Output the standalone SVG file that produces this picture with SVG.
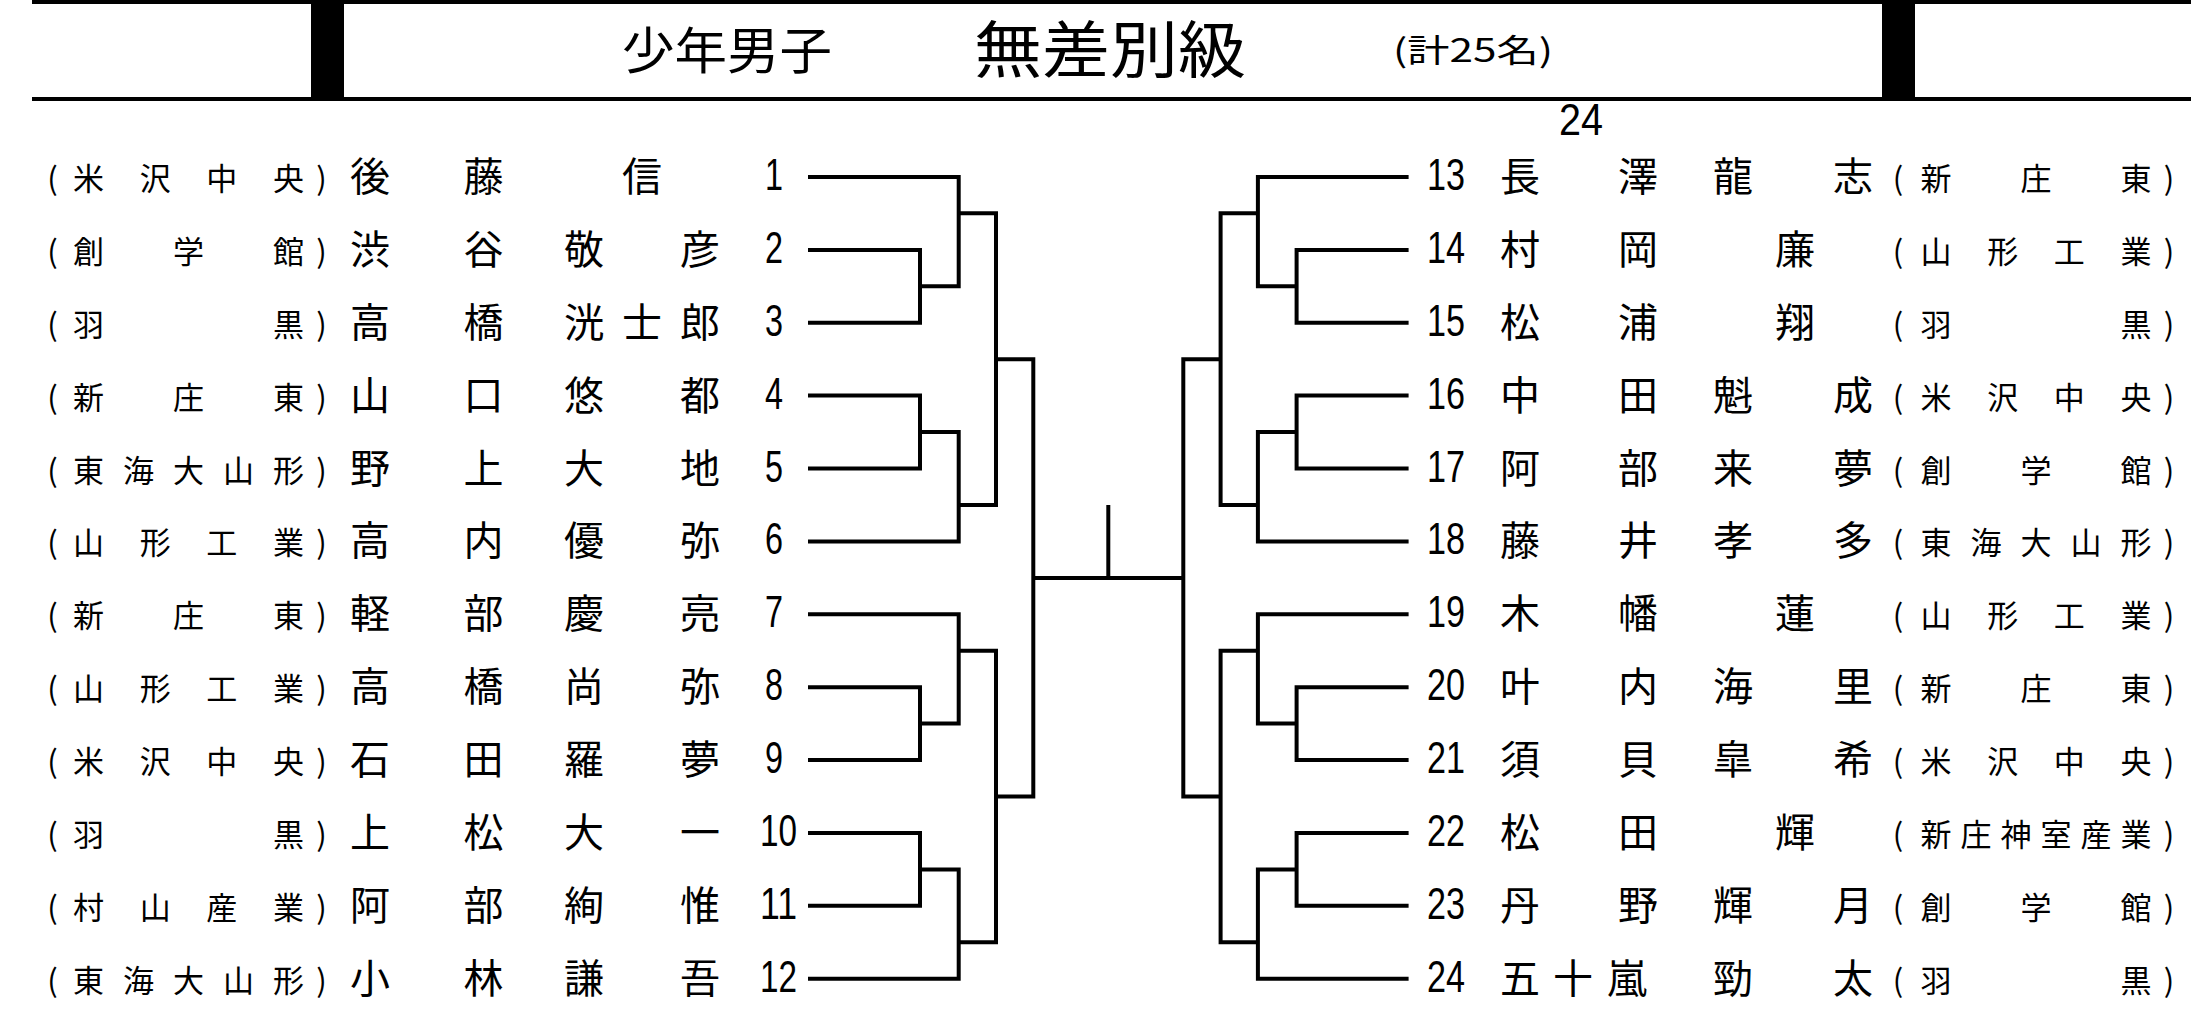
<svg xmlns="http://www.w3.org/2000/svg" width="2209" height="1009" viewBox="0 0 2209 1009">
<style>
text { fill: #000; }
.ttl { font-family: "Noto Sans CJK JP", sans-serif; }
.sch { font-family: "Noto Sans CJK JP", sans-serif; font-size: 31px; text-anchor: middle; }
.nm { font-family: "Noto Sans CJK JP", sans-serif; font-size: 40px; text-anchor: middle; }
.num { font-family: "Liberation Sans", sans-serif; font-size: 44px; }
.ln { fill: none; stroke: #000; stroke-width: 4; stroke-linejoin: miter; }
</style>
<rect width="2209" height="1009" fill="#fff"/>
<g id="header">
  <rect x="32" y="0" width="2159" height="4" fill="#000"/>
  <rect x="32" y="97" width="2159" height="4" fill="#000"/>
  <rect x="311" y="0" width="33" height="101" fill="#000"/>
  <rect x="1882" y="0" width="33" height="101" fill="#000"/>
  <text class="ttl" x="622" y="69" font-size="50" textLength="210" lengthAdjust="spacingAndGlyphs">少年男子</text>
  <text class="ttl" x="974" y="73" font-size="62" textLength="272" lengthAdjust="spacingAndGlyphs">無差別級</text>
  <text class="ttl" x="1393" y="62" font-size="32" textLength="160" lengthAdjust="spacingAndGlyphs">(計25名)</text>
  <text class="num" x="1559" y="135" font-size="48" textLength="44" lengthAdjust="spacingAndGlyphs">24</text>
</g>
<g id="connectors">
  <path class="ln" d="M808,177 H958.7 V286.3 H920"/>
  <path class="ln" d="M808,249.9 H920 V322.8 H808"/>
  <path class="ln" d="M958.7,213.3 H996 V505 H958.7"/>
  <path class="ln" d="M808,395.6 H920 V468.5 H808"/>
  <path class="ln" d="M920,432.1 H958.7 V541.4 H808"/>
  <path class="ln" d="M996,359.2 H1033.3 V796.5 H996"/>
  <path class="ln" d="M808,614.3 H958.7 V723.6 H920"/>
  <path class="ln" d="M808,687.2 H920 V760 H808"/>
  <path class="ln" d="M958.7,650.8 H996 V942.3 H958.7"/>
  <path class="ln" d="M808,832.9 H920 V905.8 H808"/>
  <path class="ln" d="M920,869.4 H958.7 V978.7 H808"/>
  <path class="ln" d="M1033.3,577.9 H1183.3"/>
  <path class="ln" d="M1108.3,505 V577.9"/>
  <path class="ln" d="M1408.6,177 H1257.9 V286.3 H1296.6"/>
  <path class="ln" d="M1408.6,249.9 H1296.6 V322.8 H1408.6"/>
  <path class="ln" d="M1257.9,213.3 H1220.6 V505 H1257.9"/>
  <path class="ln" d="M1408.6,395.6 H1296.6 V468.5 H1408.6"/>
  <path class="ln" d="M1296.6,432.1 H1257.9 V541.4 H1408.6"/>
  <path class="ln" d="M1220.6,359.2 H1183.3 V796.5 H1220.6"/>
  <path class="ln" d="M1408.6,614.3 H1257.9 V723.6 H1296.6"/>
  <path class="ln" d="M1408.6,687.2 H1296.6 V760 H1408.6"/>
  <path class="ln" d="M1257.9,650.8 H1220.6 V942.3 H1257.9"/>
  <path class="ln" d="M1408.6,832.9 H1296.6 V905.8 H1408.6"/>
  <path class="ln" d="M1296.6,869.4 H1257.9 V978.7 H1408.6"/>
</g>
<g id="p1" transform="translate(0,177)">
  <text class="sch" x="52.5 88.5 155.2 221.8 288.5 321.5" y="13">(米沢中央)</text>
  <text class="nm" x="370 483.5 642" y="14">後藤信</text>
  <text class="num" x="765" y="13" textLength="18" lengthAdjust="spacingAndGlyphs">1</text>
</g>
<g id="p2" transform="translate(0,249.9)">
  <text class="sch" x="52.5 88.5 188.5 288.5 321.5" y="13">(創学館)</text>
  <text class="nm" x="370 483.5 584 700" y="14">渋谷敬彦</text>
  <text class="num" x="765" y="13" textLength="18" lengthAdjust="spacingAndGlyphs">2</text>
</g>
<g id="p3" transform="translate(0,322.8)">
  <text class="sch" x="52.5 88.5 288.5 321.5" y="13">(羽黒)</text>
  <text class="nm" x="370 483.5 584 642 700" y="14">高橋洸士郎</text>
  <text class="num" x="765" y="13" textLength="18" lengthAdjust="spacingAndGlyphs">3</text>
</g>
<g id="p4" transform="translate(0,395.6)">
  <text class="sch" x="52.5 88.5 188.5 288.5 321.5" y="13">(新庄東)</text>
  <text class="nm" x="370 483.5 584 700" y="14">山口悠都</text>
  <text class="num" x="765" y="13" textLength="18" lengthAdjust="spacingAndGlyphs">4</text>
</g>
<g id="p5" transform="translate(0,468.5)">
  <text class="sch" x="52.5 88.5 138.5 188.5 238.5 288.5 321.5" y="13">(東海大山形)</text>
  <text class="nm" x="370 483.5 584 700" y="14">野上大地</text>
  <text class="num" x="765" y="13" textLength="18" lengthAdjust="spacingAndGlyphs">5</text>
</g>
<g id="p6" transform="translate(0,541.4)">
  <text class="sch" x="52.5 88.5 155.2 221.8 288.5 321.5" y="13">(山形工業)</text>
  <text class="nm" x="370 483.5 584 700" y="14">高内優弥</text>
  <text class="num" x="765" y="13" textLength="18" lengthAdjust="spacingAndGlyphs">6</text>
</g>
<g id="p7" transform="translate(0,614.3)">
  <text class="sch" x="52.5 88.5 188.5 288.5 321.5" y="13">(新庄東)</text>
  <text class="nm" x="370 483.5 584 700" y="14">軽部慶亮</text>
  <text class="num" x="765" y="13" textLength="18" lengthAdjust="spacingAndGlyphs">7</text>
</g>
<g id="p8" transform="translate(0,687.2)">
  <text class="sch" x="52.5 88.5 155.2 221.8 288.5 321.5" y="13">(山形工業)</text>
  <text class="nm" x="370 483.5 584 700" y="14">高橋尚弥</text>
  <text class="num" x="765" y="13" textLength="18" lengthAdjust="spacingAndGlyphs">8</text>
</g>
<g id="p9" transform="translate(0,760)">
  <text class="sch" x="52.5 88.5 155.2 221.8 288.5 321.5" y="13">(米沢中央)</text>
  <text class="nm" x="370 483.5 584 700" y="14">石田羅夢</text>
  <text class="num" x="765" y="13" textLength="18" lengthAdjust="spacingAndGlyphs">9</text>
</g>
<g id="p10" transform="translate(0,832.9)">
  <text class="sch" x="52.5 88.5 288.5 321.5" y="13">(羽黒)</text>
  <text class="nm" x="370 483.5 584 700" y="14">上松大一</text>
  <text class="num" x="760" y="13" textLength="37" lengthAdjust="spacingAndGlyphs">10</text>
</g>
<g id="p11" transform="translate(0,905.8)">
  <text class="sch" x="52.5 88.5 155.2 221.8 288.5 321.5" y="13">(村山産業)</text>
  <text class="nm" x="370 483.5 584 700" y="14">阿部絢惟</text>
  <text class="num" x="760" y="13" textLength="37" lengthAdjust="spacingAndGlyphs">11</text>
</g>
<g id="p12" transform="translate(0,978.7)">
  <text class="sch" x="52.5 88.5 138.5 188.5 238.5 288.5 321.5" y="13">(東海大山形)</text>
  <text class="nm" x="370 483.5 584 700" y="14">小林謙吾</text>
  <text class="num" x="760" y="13" textLength="37" lengthAdjust="spacingAndGlyphs">12</text>
</g>
<g id="p13" transform="translate(0,177)">
  <text class="num" x="1427" y="13" textLength="38" lengthAdjust="spacingAndGlyphs">13</text>
  <text class="nm" x="1520 1638 1733 1853" y="14">長澤龍志</text>
  <text class="sch" x="1898 1936 2036 2136 2169" y="13">(新庄東)</text>
</g>
<g id="p14" transform="translate(0,249.9)">
  <text class="num" x="1427" y="13" textLength="38" lengthAdjust="spacingAndGlyphs">14</text>
  <text class="nm" x="1520 1638 1795" y="14">村岡廉</text>
  <text class="sch" x="1898 1936 2002.7 2069.3 2136 2169" y="13">(山形工業)</text>
</g>
<g id="p15" transform="translate(0,322.8)">
  <text class="num" x="1427" y="13" textLength="38" lengthAdjust="spacingAndGlyphs">15</text>
  <text class="nm" x="1520 1638 1795" y="14">松浦翔</text>
  <text class="sch" x="1898 1936 2136 2169" y="13">(羽黒)</text>
</g>
<g id="p16" transform="translate(0,395.6)">
  <text class="num" x="1427" y="13" textLength="38" lengthAdjust="spacingAndGlyphs">16</text>
  <text class="nm" x="1520 1638 1733 1853" y="14">中田魁成</text>
  <text class="sch" x="1898 1936 2002.7 2069.3 2136 2169" y="13">(米沢中央)</text>
</g>
<g id="p17" transform="translate(0,468.5)">
  <text class="num" x="1427" y="13" textLength="38" lengthAdjust="spacingAndGlyphs">17</text>
  <text class="nm" x="1520 1638 1733 1853" y="14">阿部来夢</text>
  <text class="sch" x="1898 1936 2036 2136 2169" y="13">(創学館)</text>
</g>
<g id="p18" transform="translate(0,541.4)">
  <text class="num" x="1427" y="13" textLength="38" lengthAdjust="spacingAndGlyphs">18</text>
  <text class="nm" x="1520 1638 1733 1853" y="14">藤井孝多</text>
  <text class="sch" x="1898 1936 1986 2036 2086 2136 2169" y="13">(東海大山形)</text>
</g>
<g id="p19" transform="translate(0,614.3)">
  <text class="num" x="1427" y="13" textLength="38" lengthAdjust="spacingAndGlyphs">19</text>
  <text class="nm" x="1520 1638 1795" y="14">木幡蓮</text>
  <text class="sch" x="1898 1936 2002.7 2069.3 2136 2169" y="13">(山形工業)</text>
</g>
<g id="p20" transform="translate(0,687.2)">
  <text class="num" x="1427" y="13" textLength="38" lengthAdjust="spacingAndGlyphs">20</text>
  <text class="nm" x="1520 1638 1733 1853" y="14">叶内海里</text>
  <text class="sch" x="1898 1936 2036 2136 2169" y="13">(新庄東)</text>
</g>
<g id="p21" transform="translate(0,760)">
  <text class="num" x="1427" y="13" textLength="38" lengthAdjust="spacingAndGlyphs">21</text>
  <text class="nm" x="1520 1638 1733 1853" y="14">須貝皐希</text>
  <text class="sch" x="1898 1936 2002.7 2069.3 2136 2169" y="13">(米沢中央)</text>
</g>
<g id="p22" transform="translate(0,832.9)">
  <text class="num" x="1427" y="13" textLength="38" lengthAdjust="spacingAndGlyphs">22</text>
  <text class="nm" x="1520 1638 1795" y="14">松田輝</text>
  <text class="sch" x="1898 1936 1976 2016 2056 2096 2136 2169" y="13">(新庄神室産業)</text>
</g>
<g id="p23" transform="translate(0,905.8)">
  <text class="num" x="1427" y="13" textLength="38" lengthAdjust="spacingAndGlyphs">23</text>
  <text class="nm" x="1520 1638 1733 1853" y="14">丹野輝月</text>
  <text class="sch" x="1898 1936 2036 2136 2169" y="13">(創学館)</text>
</g>
<g id="p24" transform="translate(0,978.7)">
  <text class="num" x="1427" y="13" textLength="38" lengthAdjust="spacingAndGlyphs">24</text>
  <text class="nm" x="1520 1573 1627 1733 1853" y="14">五十嵐勁太</text>
  <text class="sch" x="1898 1936 2136 2169" y="13">(羽黒)</text>
</g>
</svg>
